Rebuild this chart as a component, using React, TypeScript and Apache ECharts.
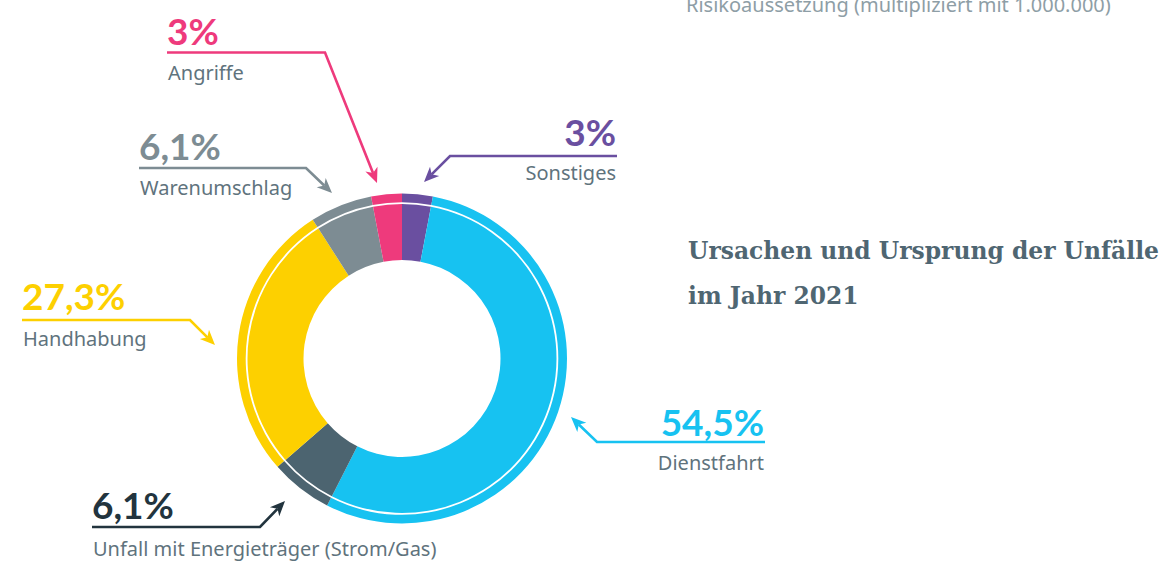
import React, { useEffect, useRef } from "react";
import * as echarts from "echarts";

// ---- data ----
const categories = [
  "Sonstiges",
  "Dienstfahrt",
  "Unfall mit Energieträger (Strom/Gas)",
  "Handhabung",
  "Warenumschlag",
  "Angriffe",
];
const values = [3, 54.5, 6.1, 27.3, 6.1, 3];
const valueLabels = ["3%", "54,5%", "6,1%", "27,3%", "6,1%", "3%"];
const titleLines = ["Ursachen und Ursprung der Unfälle", "im Jahr 2021"];
const topNote = "Risikoaussetzung (multipliziert mit 1.000.000)";

// ---- styles ----
const sliceColors = ["#6A4FA0", "#17C2F1", "#4C6470", "#FDD000", "#7D8C93", "#EE3A7C"];
const numberColors = ["#6A4FA0", "#17C2F1", "#22343E", "#FDD000", "#7D8C93", "#EE3A7C"];
const nameColor = "#5F737D";
const nameFont = "20px 'Noto Sans', 'DejaVu Sans', sans-serif";

// annotation layout (x anchor, alignment, number y, rule y, rule end x, arrow tip, name y)
const annotationLayout = [
  { x: 616, align: "right", numY: 131.5, lineY: 156, cornerX: 450, tip: [424, 182], nameY: 172 },
  { x: 764, align: "right", numY: 421.5, lineY: 442, cornerX: 597, tip: [571, 417], nameY: 462 },
  { x: 92, align: "left", numY: 504, lineY: 527, cornerX: 260, tip: [285, 501], nameY: 548 },
  { x: 22, align: "left", numY: 295.5, lineY: 320, cornerX: 190, tip: [215, 345], nameY: 338 },
  { x: 139, align: "left", numY: 145, lineY: 168, cornerX: 306, tip: [332, 193], nameY: 187 },
  { x: 167, align: "left", numY: 30, lineY: 52.5, cornerX: 325, tip: [377, 183], nameY: 72 },
];

function arrowParts(start: number[], corner: number[], tip: number[], color: string) {
  const dx = tip[0] - corner[0];
  const dy = tip[1] - corner[1];
  const len = Math.sqrt(dx * dx + dy * dy);
  const ux = dx / len;
  const uy = dy / len;
  const nx = -uy;
  const ny = ux;
  const size = 15;
  const half = 6.5;
  const bx = tip[0] - ux * size;
  const by = tip[1] - uy * size;
  const backX = tip[0] - ux * size * 0.72;
  const backY = tip[1] - uy * size * 0.72;
  return [
    {
      type: "polyline",
      silent: true,
      shape: { points: [start, corner, [backX, backY]] },
      style: { stroke: color, lineWidth: 2.6, fill: null, lineJoin: "miter" },
    },
    {
      type: "polygon",
      silent: true,
      shape: {
        points: [
          tip,
          [bx + nx * half, by + ny * half],
          [backX, backY],
          [bx - nx * half, by - ny * half],
        ],
      },
      style: { fill: color },
    },
  ];
}

export default function App() {
  const ref = useRef<HTMLDivElement>(null);

  useEffect(() => {
    if (!ref.current) return;
    const chart = echarts.init(ref.current, null, { renderer: "svg" });

    const data = categories.map((name, i) => ({
      name,
      value: values[i],
      itemStyle: { color: sliceColors[i] },
    }));

    const graphics: any[] = [];
    annotationLayout.forEach((a, i) => {
      const numColor = numberColors[i];
      const start = a.align === "right" ? [a.x + 1, a.lineY] : [a.x, a.lineY];
      graphics.push(...arrowParts(start, [a.cornerX, a.lineY], a.tip, numColor));
      graphics.push({
        type: "text",
        silent: true,
        x: a.x,
        y: a.numY,
        style: {
          text: valueLabels[i],
          fill: numColor,
          font: "bold 37px Lato",
          align: a.align,
          verticalAlign: "middle",
        },
      });
      graphics.push({
        type: "text",
        silent: true,
        x: a.align === "right" ? a.x : a.x + 1,
        y: a.nameY,
        style: {
          text: categories[i],
          fill: nameColor,
          font: nameFont,
          align: a.align,
          verticalAlign: "middle",
        },
      });
    });

    titleLines.forEach((line, i) => {
      graphics.push({
        type: "text",
        silent: true,
        x: 688,
        y: 251 + i * 45,
        style: {
          text: line,
          fill: "#4F6672",
          font: "bold 23.4px 'DejaVu Serif'",
          align: "left",
          verticalAlign: "middle",
        },
      });
    });
    graphics.push({
      type: "text",
      silent: true,
      x: 686,
      y: 4,
      style: {
        text: topNote,
        fill: "#8E9EA6",
        font: nameFont,
        align: "left",
        verticalAlign: "middle",
      },
    });

    const pieCommon = {
      type: "pie",
      center: [402, 358.5],
      startAngle: 90,
      clockwise: true,
      silent: true,
      avoidLabelOverlap: false,
      label: { show: false },
      labelLine: { show: false },
      emphasis: { disabled: true },
      itemStyle: { borderWidth: 0 },
      data,
    };

    chart.setOption({
      animation: false,
      backgroundColor: "#ffffff",
      series: [
        { ...pieCommon, name: "inner", radius: [98.5, 154.5] },
        { ...pieCommon, name: "outer", radius: [156.3, 165] },
      ],
      graphic: { elements: graphics },
    });

    return () => chart.dispose();
  }, []);

  return (
    <div
      ref={ref}
      style={{ position: "fixed", left: 0, top: 0, width: 1166, height: 561 }}
    />
  );
}
